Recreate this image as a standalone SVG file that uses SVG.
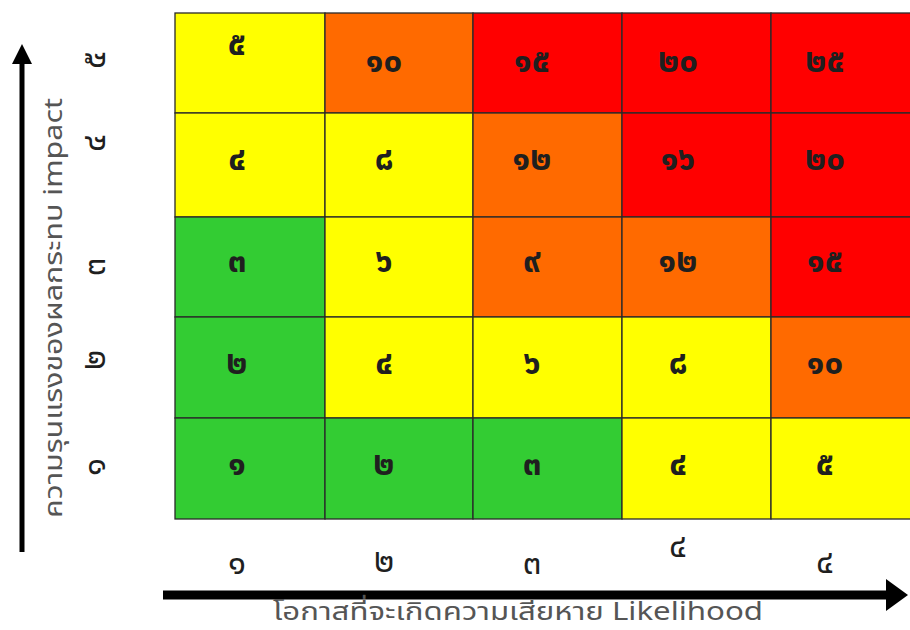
<svg xmlns="http://www.w3.org/2000/svg" width="910" height="630" viewBox="0 0 910 630">
<style>
.c{stroke:#2a2a2a;stroke-width:1.3}
.y{fill:#FFFF00}.o{fill:#FF6A00}.r{fill:#FF0000}.g{fill:#33CC33}
.n{font-family:"Noto Sans Thai","Noto Sans","DejaVu Sans",sans-serif;font-size:33px;font-weight:bold;fill:#1f1f1f;text-anchor:middle;dominant-baseline:central}
.ax{font-family:"Noto Sans Thai","Noto Sans","DejaVu Sans",sans-serif;font-size:33px;fill:#1f1f1f;text-anchor:middle;dominant-baseline:central}
.lb{font-family:"Noto Sans Thai","Noto Sans","DejaVu Sans",sans-serif;font-size:25px;fill:#555;text-anchor:middle}
.ar{fill:#000}
</style>
<rect width="910" height="630" fill="#fff"/>
<g id="matrix">
<g id="row5">
<rect class="c y" x="175" y="13" width="150" height="100"/>
<rect class="c o" x="325" y="13" width="148" height="100"/>
<rect class="c r" x="473" y="13" width="149" height="100"/>
<rect class="c r" x="622" y="13" width="149" height="100"/>
<rect class="c r" x="771" y="13" width="140" height="100"/>
<text class="n" x="237" y="45">๕</text>
<text class="n" x="384" y="62">๑๐</text>
<text class="n" x="532" y="62">๑๕</text>
<text class="n" x="678" y="62">๒๐</text>
<text class="n" x="825" y="62">๒๕</text>
</g>
<g id="row4">
<rect class="c y" x="175" y="113" width="150" height="104"/>
<rect class="c y" x="325" y="113" width="148" height="104"/>
<rect class="c o" x="473" y="113" width="149" height="104"/>
<rect class="c r" x="622" y="113" width="149" height="104"/>
<rect class="c r" x="771" y="113" width="140" height="104"/>
<text class="n" x="237" y="160">๔</text>
<text class="n" x="384" y="160">๘</text>
<text class="n" x="532" y="160">๑๒</text>
<text class="n" x="678" y="160">๑๖</text>
<text class="n" x="825" y="160">๒๐</text>
</g>
<g id="row3">
<rect class="c g" x="175" y="217" width="150" height="100"/>
<rect class="c y" x="325" y="217" width="148" height="100"/>
<rect class="c o" x="473" y="217" width="149" height="100"/>
<rect class="c o" x="622" y="217" width="149" height="100"/>
<rect class="c r" x="771" y="217" width="140" height="100"/>
<text class="n" x="237" y="262">๓</text>
<text class="n" x="384" y="262">๖</text>
<text class="n" x="532" y="262">๙</text>
<text class="n" x="678" y="262">๑๒</text>
<text class="n" x="825" y="262">๑๕</text>
</g>
<g id="row2">
<rect class="c g" x="175" y="317" width="150" height="101"/>
<rect class="c y" x="325" y="317" width="148" height="101"/>
<rect class="c y" x="473" y="317" width="149" height="101"/>
<rect class="c y" x="622" y="317" width="149" height="101"/>
<rect class="c o" x="771" y="317" width="140" height="101"/>
<text class="n" x="237" y="364">๒</text>
<text class="n" x="384" y="364">๔</text>
<text class="n" x="532" y="364">๖</text>
<text class="n" x="678" y="364">๘</text>
<text class="n" x="825" y="364">๑๐</text>
</g>
<g id="row1">
<rect class="c g" x="175" y="418" width="150" height="101"/>
<rect class="c g" x="325" y="418" width="148" height="101"/>
<rect class="c g" x="473" y="418" width="149" height="101"/>
<rect class="c y" x="622" y="418" width="149" height="101"/>
<rect class="c y" x="771" y="418" width="140" height="101"/>
<text class="n" x="237" y="465">๑</text>
<text class="n" x="384" y="465">๒</text>
<text class="n" x="532" y="465">๓</text>
<text class="n" x="678" y="465">๔</text>
<text class="n" x="825" y="465">๕</text>
</g>
</g>
<g id="connectors">
<line x1="22" y1="552" x2="22" y2="60" stroke="#000" stroke-width="5"/>
<polygon class="ar" points="12,64 22,44 32,64"/>
<line x1="163" y1="595" x2="890" y2="595" stroke="#000" stroke-width="9"/>
<polygon class="ar" points="886,579 908,595 886,611"/>
</g>
<g id="y-axis">
<text class="lb" transform="translate(62,308) rotate(-90)" textLength="420" lengthAdjust="spacingAndGlyphs">ความรุนแรงของผลกระทบ impact</text>
<text class="ax" transform="translate(95,60) rotate(-90)">๕</text>
<text class="ax" transform="translate(95,143) rotate(-90)">๔</text>
<text class="ax" transform="translate(95,267) rotate(-90)">๓</text>
<text class="ax" transform="translate(95,360) rotate(-90)">๒</text>
<text class="ax" transform="translate(95,467) rotate(-90)">๑</text>
</g>
<g id="x-axis">
<text class="ax" x="237" y="564">๑</text>
<text class="ax" x="384" y="562">๒</text>
<text class="ax" x="532" y="564">๓</text>
<text class="ax" x="678" y="547">๔</text>
<text class="ax" x="825" y="563">๔</text>
<text class="lb" x="518" y="620" textLength="490" lengthAdjust="spacingAndGlyphs">โอกาสที่จะเกิดความเสียหาย Likelihood</text>
</g>
</svg>
